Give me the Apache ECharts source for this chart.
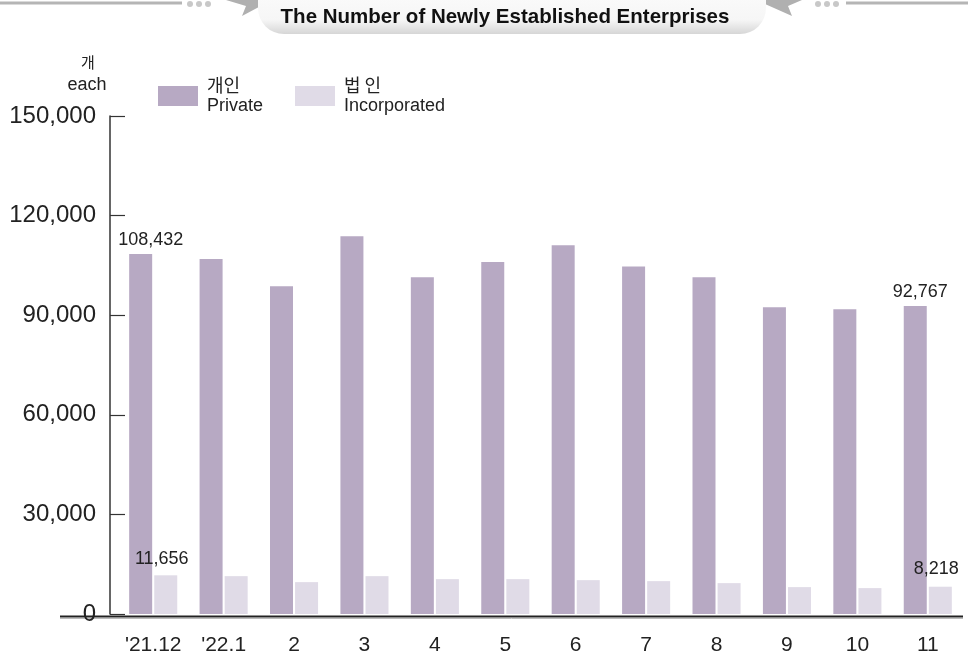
<!DOCTYPE html>
<html>
<head>
<meta charset="utf-8">
<script src="https://cdn.jsdelivr.net/npm/echarts@6/dist/echarts.min.js"></script>
<style>
  html, body { margin: 0; padding: 0; background: #fff; }
  #chart { width: 968px; height: 658px; }
</style>
</head>
<body>
<div id="chart"></div>
<script>
  // 월별 신설 사업자 수
  var months = ["'21.12", "'22.1", '2', '3', '4', '5', '6', '7', '8', '9', '10', '11']
  var privateCounts = [108432, 106900, 98700, 113800, 101400, 106000, 111100, 104700, 101400, 92400, 91800, 92767]
  var corpCounts = [11656, 11400, 9600, 11400, 10500, 10500, 10200, 9900, 9300, 8100, 7800, 8218]
  var yTicks = [0, 30000, 60000, 90000, 120000, 150000]

  var narrow = '"Liberation Sans Narrow", "Arial Narrow", "Liberation Sans", sans-serif'
  var sans = '"Liberation Sans", Arial, sans-serif'
  var kr = '"Noto Sans CJK KR", sans-serif'

  function fmt (v) {
    return v.toLocaleString('en-US')
  }

  // 처음과 마지막 막대에만 값 표시
  function withEndLabels (values, offsets) {
    return values.map(function (v, i) {
      var item = { value: v }
      if (i === 0 || i === values.length - 1) {
        item.label = { show: true, offset: i === 0 ? offsets[0] : offsets[1] }
      }
      return item
    })
  }

  var chart = echarts.init(document.getElementById('chart'))
  var option = {
    animation: false,
    grid: { left: 118, right: 5, top: 116, bottom: 44 },
    legend: {
      left: 158,
      top: 76,
      padding: 0,
      itemWidth: 40,
      itemHeight: 20,
      itemGap: 32,
      icon: 'rect',
      textStyle: {
        padding: [0, 0, 0, 4],
        rich: {
          k: { fontFamily: kr, fontSize: 18, lineHeight: 21, color: '#222' },
          e: { fontFamily: narrow, fontSize: 18, lineHeight: 22, color: '#222' }
        }
      },
      formatter: function (name) {
        return name === 'Private' ? '{k|개인}\n{e|Private}' : '{k|법 인}\n{e|Incorporated}'
      },
      data: ['Private', 'Incorporated']
    },
    xAxis: {
      type: 'category',
      data: months,
      axisLine: { show: false },
      axisTick: { show: false },
      axisLabel: { interval: 0, fontFamily: narrow, fontSize: 21, color: '#222', margin: 21 }
    },
    yAxis: {
      type: 'value',
      min: yTicks[0],
      max: yTicks[yTicks.length - 1],
      interval: 30000,
      offset: 8,
      splitLine: { show: false },
      axisLine: { show: true, lineStyle: { color: '#333', width: 1.5 } },
      axisTick: { show: true, inside: true, length: 15, lineStyle: { color: '#333', width: 1.2 } },
      axisLabel: {
        fontFamily: sans, fontSize: 24, color: '#222', margin: 14,
        padding: [2, 0, 0, 0],
        formatter: function (v) { return fmt(v) }
      }
    },
    series: [
      {
        name: 'Private',
        type: 'bar',
        barWidth: 23,
        barGap: '9%',
        itemStyle: { color: '#b7a9c3' },
        label: {
          position: 'top', distance: 4, fontFamily: narrow, fontSize: 18, color: '#222',
          formatter: function (p) { return fmt(p.value) }
        },
        data: withEndLabels(privateCounts, [[10, -1], [5, -1]])
      },
      {
        name: 'Incorporated',
        type: 'bar',
        barWidth: 23,
        itemStyle: { color: '#e0dbe7' },
        label: {
          position: 'top', distance: 6, fontFamily: narrow, fontSize: 18, color: '#222',
          formatter: function (p) { return fmt(p.value) }
        },
        data: withEndLabels(corpCounts, [[-4, -1], [-4, -3]])
      }
    ],
    graphic: [
      // 제목 배너
      { type: 'line', shape: { x1: 0, y1: 3, x2: 182, y2: 3 }, style: { stroke: '#b5b5b5', lineWidth: 3 } },
      { type: 'line', shape: { x1: 846, y1: 3, x2: 968, y2: 3 }, style: { stroke: '#b5b5b5', lineWidth: 3 } },
      { type: 'circle', shape: { cx: 190, cy: 4, r: 3 }, style: { fill: '#c8c8c8' } },
      { type: 'circle', shape: { cx: 199, cy: 4, r: 3 }, style: { fill: '#c8c8c8' } },
      { type: 'circle', shape: { cx: 208, cy: 4, r: 3 }, style: { fill: '#c8c8c8' } },
      { type: 'circle', shape: { cx: 818, cy: 4, r: 3 }, style: { fill: '#c8c8c8' } },
      { type: 'circle', shape: { cx: 827, cy: 4, r: 3 }, style: { fill: '#c8c8c8' } },
      { type: 'circle', shape: { cx: 836, cy: 4, r: 3 }, style: { fill: '#c8c8c8' } },
      { type: 'polygon', shape: { points: [[226, 0], [272, 0], [242, 16], [246, 6]] }, style: { fill: '#b0b0b0' } },
      { type: 'polygon', shape: { points: [[756, 0], [802, 0], [788, 6], [792, 16]] }, style: { fill: '#b0b0b0' } },
      {
        type: 'rect',
        shape: { x: 258, y: -30, width: 508, height: 64, r: 26 },
        style: {
          fill: new echarts.graphic.LinearGradient(0, 0, 0, 1, [
            { offset: 0, color: '#ffffff' },
            { offset: 0.78, color: '#f6f6f6' },
            { offset: 1, color: '#d6d6d6' }
          ])
        }
      },
      {
        type: 'text',
        x: 505,
        y: 17,
        style: {
          text: 'The Number of Newly Established Enterprises',
          fontFamily: sans, fontWeight: 'bold', fontSize: 20.5, fill: '#111',
          align: 'center', verticalAlign: 'middle'
        }
      },
      // 단위
      {
        type: 'text',
        x: 88,
        y: 62,
        style: { text: '개', fontFamily: kr, fontSize: 15, fill: '#222', align: 'center', verticalAlign: 'middle' }
      },
      {
        type: 'text',
        x: 87,
        y: 85,
        style: { text: 'each', fontFamily: narrow, fontSize: 18, fill: '#222', align: 'center', verticalAlign: 'middle' }
      },
      // x축 선
      { type: 'line', shape: { x1: 60, y1: 616.5, x2: 963, y2: 616.5 }, style: { stroke: '#222', lineWidth: 2 } },
      { type: 'line', shape: { x1: 60, y1: 618.5, x2: 963, y2: 618.5 }, style: { stroke: '#bbb', lineWidth: 1 } }
    ]
  }
  chart.setOption(option)
  window.addEventListener('resize', function () {
    chart.resize()
  })
</script>
</body>
</html>
